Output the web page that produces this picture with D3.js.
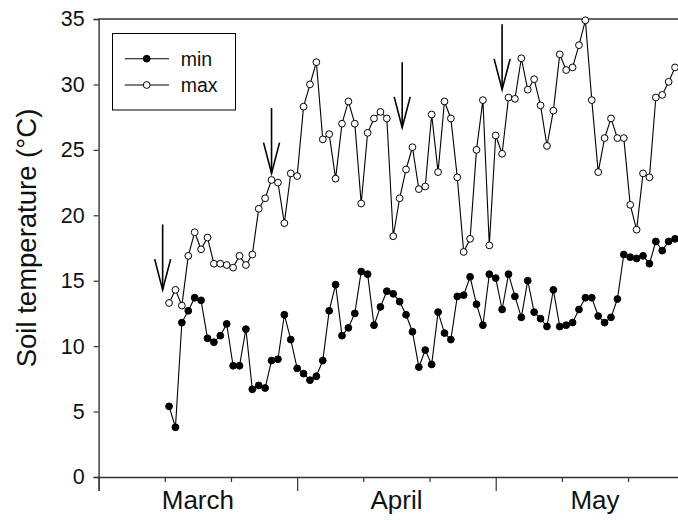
<!DOCTYPE html>
<html>
<head>
<meta charset="utf-8">
<script src="https://cdn.jsdelivr.net/npm/d3@7"></script>
<style>
  html, body { margin: 0; padding: 0; background: #fff; }
  svg { display: block; font-family: "Liberation Sans", Arial, sans-serif; }
</style>
</head>
<body>
<svg id="chart" width="678" height="520"></svg>
<script>
// Daily soil temperature (°C), 80 consecutive days starting 12 March
const firstDay = 12;           // day number (1 = 1 March)
const minTemp = [5.4, 3.8, 11.8, 12.7, 13.7, 13.5, 10.6, 10.3, 10.8, 11.7,
                 8.5, 8.5, 11.3, 6.7, 7.0, 6.8, 8.9, 9.0, 12.4, 10.5,
                 8.3, 7.9, 7.4, 7.7, 8.9, 12.7, 14.7, 10.8, 11.4, 12.5,
                 15.7, 15.5, 11.6, 13.0, 14.2, 14.0, 13.4, 12.4, 11.1, 8.4,
                 9.7, 8.6, 12.6, 11.0, 10.5, 13.8, 13.9, 15.3, 13.2, 11.6,
                 15.5, 15.2, 12.8, 15.5, 13.8, 12.2, 15.0, 12.6, 12.1, 11.5,
                 14.3, 11.5, 11.6, 11.8, 12.8, 13.7, 13.7, 12.3, 11.8, 12.2,
                 13.6, 17.0, 16.8, 16.7, 16.9, 16.3, 18.0, 17.3, 18.0, 18.2];
const maxTemp = [13.3, 14.3, 13.1, 16.9, 18.7, 17.4, 18.3, 16.3, 16.3, 16.2,
                 16.0, 16.9, 16.2, 17.0, 20.5, 21.3, 22.7, 22.5, 19.4, 23.2,
                 23.0, 28.3, 30.0, 31.7, 25.8, 26.2, 22.8, 27.0, 28.7, 27.0,
                 20.9, 26.3, 27.4, 27.9, 27.4, 18.4, 21.3, 23.5, 25.2, 22.0,
                 22.2, 27.7, 23.3, 28.7, 27.4, 22.9, 17.2, 18.2, 25.0, 28.8,
                 17.7, 26.1, 24.7, 29.0, 28.9, 32.0, 29.6, 30.4, 28.4, 25.3,
                 28.0, 32.3, 31.1, 31.3, 33.0, 34.9, 28.8, 23.3, 25.9, 27.4,
                 25.9, 25.9, 20.8, 18.9, 23.2, 22.9, 29.0, 29.2, 30.2, 31.3];
// Event markers: day number and the temperature each arrow points at
const arrowDays = [11, 28, 48.4, 64];
const arrowTips = [14.3, 23.2, 26.7, 29.6];
// Axis annotation
const months = ["March", "April", "May"];
const monthStarts = [1, 32, 63, 94];
const yTicks = [0, 5, 10, 15, 20, 25, 30, 35];
const seriesNames = ["min", "max"];

const svg = d3.select("#chart");
const plotLeft = 98.6, plotTop = 19, plotBottom = 477;
const x = d3.scaleLinear().domain([1, 94]).range([plotLeft, plotLeft + 93 * 6.405]);
const y = d3.scaleLinear().domain([0, 35]).range([plotBottom, plotTop]);

const days = d3.range(minTemp.length).map(i => firstDay + i);
const axisColor = "#333";

// Frame top line
svg.append("line")
  .attr("x1", plotLeft).attr("x2", x(94))
  .attr("y1", y(35)).attr("y2", y(35))
  .attr("stroke", axisColor).attr("stroke-width", 1.4);

// Y axis
const yAxis = svg.append("g")
  .attr("transform", `translate(${plotLeft},0)`)
  .call(d3.axisLeft(y).tickValues(yTicks).tickSize(5).tickPadding(9));
yAxis.select(".domain").attr("stroke", axisColor).attr("stroke-width", 1.4);
yAxis.selectAll(".tick line").attr("stroke", axisColor).attr("stroke-width", 1.2);
yAxis.selectAll(".tick text").attr("font-size", 21.5).attr("fill", "#111")
  .attr("font-family", "Liberation Sans, Arial, sans-serif");

// X axis: month boundaries (long ticks) and thirds of a month (short ticks)
const minorTicks = [];
for (let m = 0; m < 3; m++) {
  const a = monthStarts[m], b = monthStarts[m + 1];
  minorTicks.push(a + (b - a) / 3, a + 2 * (b - a) / 3);
}
const xAxisMajor = svg.append("g")
  .attr("transform", `translate(0,${plotBottom})`)
  .call(d3.axisBottom(x).tickValues(monthStarts).tickSize(14).tickFormat(""));
xAxisMajor.select(".domain").attr("stroke", axisColor).attr("stroke-width", 1.4);
xAxisMajor.selectAll(".tick line").attr("stroke", axisColor).attr("stroke-width", 1.2);
const xAxisMinor = svg.append("g")
  .attr("transform", `translate(0,${plotBottom})`)
  .call(d3.axisBottom(x).tickValues(minorTicks).tickSize(5).tickFormat(""));
xAxisMinor.select(".domain").remove();
xAxisMinor.selectAll(".tick line").attr("stroke", axisColor).attr("stroke-width", 1.2);

svg.append("g").selectAll("text")
  .data(months)
  .join("text")
  .attr("x", (d, i) => x((monthStarts[i] + monthStarts[i + 1]) / 2))
  .attr("y", 509)
  .attr("text-anchor", "middle")
  .attr("font-size", 26)
  .attr("fill", "#111")
  .text(d => d);

// Y axis title
svg.append("text")
  .attr("transform", `translate(36,238) rotate(-90)`)
  .attr("text-anchor", "middle")
  .attr("font-size", 27.5)
  .attr("fill", "#111")
  .text("Soil temperature (°C)");

// Series
const line = d3.line().x((d, i) => x(days[i])).y(d => y(d));
const series = [
  { name: seriesNames[0], values: minTemp, fill: "#000" },
  { name: seriesNames[1], values: maxTemp, fill: "#fff" }
];
series.forEach(s => {
  svg.append("path")
    .datum(s.values)
    .attr("d", line)
    .attr("fill", "none")
    .attr("stroke", "#000")
    .attr("stroke-width", 1.1);
});
series.forEach(s => {
  svg.append("g").selectAll("circle")
    .data(s.values)
    .join("circle")
    .attr("cx", (d, i) => x(days[i]))
    .attr("cy", d => y(d))
    .attr("r", 3.4)
    .attr("fill", s.fill)
    .attr("stroke", "#000")
    .attr("stroke-width", 1);
});

// Arrows marking events
const arrowLen = 5, headLen = 2.35, headHalf = 8;
const arrows = svg.append("g").attr("stroke", "#000").attr("stroke-width", 1.6).attr("fill", "none");
arrowDays.forEach((d, i) => {
  const ax = x(d), tipY = y(arrowTips[i]);
  arrows.append("line")
    .attr("x1", ax).attr("x2", ax)
    .attr("y1", y(arrowTips[i] + arrowLen)).attr("y2", tipY);
  arrows.append("path")
    .attr("d", `M${ax - headHalf},${y(arrowTips[i] + headLen)}L${ax},${tipY}L${ax + headHalf},${y(arrowTips[i] + headLen)}`);
});

// Legend
const legend = svg.append("g");
legend.append("rect")
  .attr("x", 112.5).attr("y", 33.5)
  .attr("width", 123).attr("height", 76.5)
  .attr("fill", "#fff").attr("stroke", "#000").attr("stroke-width", 1);
series.forEach((s, i) => {
  const ly = 58.7 + i * 26.3;
  legend.append("line")
    .attr("x1", 124.7).attr("x2", 169)
    .attr("y1", ly).attr("y2", ly)
    .attr("stroke", "#000").attr("stroke-width", 1.1);
  legend.append("circle")
    .attr("cx", 146.7).attr("cy", ly).attr("r", 3.4)
    .attr("fill", s.fill).attr("stroke", "#000").attr("stroke-width", 1);
  legend.append("text")
    .attr("x", 180.7).attr("y", ly)
    .attr("dy", "0.35em")
    .attr("font-size", 19.5)
    .attr("fill", "#111")
    .text(s.name);
});
</script>
</body>
</html>
